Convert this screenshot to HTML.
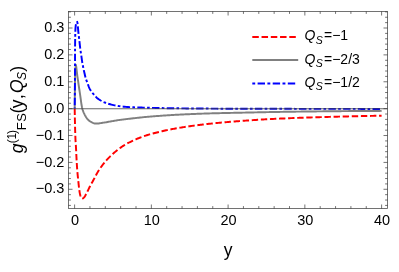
<!DOCTYPE html>
<html><head><meta charset="utf-8"><style>
html,body{margin:0;padding:0;background:#fff;}
body{width:399px;height:272px;position:relative;overflow:hidden;font-family:"Liberation Sans",sans-serif;}
svg text{font-family:"Liberation Sans",sans-serif;fill:#000;}
</style></head><body>
<svg width="399" height="272" viewBox="0 0 399 272" style="position:absolute;left:0;top:0;will-change:transform">
<rect width="399" height="272" fill="#fff"/>
<path d="M74.70,108.60 L74.71,109.65 L74.73,110.71 L74.75,111.76 L74.76,112.82 L74.78,113.87 L74.80,114.93 L74.82,115.98 L74.84,117.04 L74.86,118.09 L74.88,119.15 L74.90,120.20 L74.93,121.25 L74.95,122.31 L74.97,123.36 L75.00,124.42 L75.02,125.47 L75.05,126.53 L75.08,127.58 L75.11,128.64 L75.13,129.69 L75.16,130.75 L75.20,131.80 L75.23,132.85 L75.26,133.91 L75.30,134.96 L75.34,136.02 L75.38,137.07 L75.42,138.12 L75.46,139.18 L75.51,140.23 L75.57,141.28 L75.64,142.33 L75.72,143.39 L75.80,144.44 L75.87,145.49 L75.93,146.54 L75.99,147.60 L76.04,148.65 L76.10,149.70 L76.15,150.76 L76.20,151.81 L76.25,152.86 L76.29,153.92 L76.34,154.97 L76.39,156.03 L76.45,157.08 L76.50,158.13 L76.55,159.19 L76.61,160.24 L76.67,161.29 L76.74,162.34 L76.80,163.40 L76.86,164.45 L76.93,165.50 L76.99,166.56 L77.06,167.61 L77.14,168.66 L77.21,169.71 L77.29,170.76 L77.38,171.81 L77.47,172.87 L77.56,173.92 L77.66,174.96 L77.77,176.01 L77.88,177.06 L77.99,178.11 L78.10,179.16 L78.22,180.21 L78.33,181.26 L78.43,182.31 L78.54,183.36 L78.64,184.41 L78.75,185.46 L78.86,186.51 L78.98,187.56 L79.11,188.60 L79.25,189.65 L79.40,190.69 L79.56,191.76 L79.73,192.82 L79.93,193.87 L80.17,194.89 L80.46,195.87 L80.86,196.94 L81.46,198.04 L82.15,198.68 L82.96,198.42 L83.86,197.64 L84.52,196.87 L85.09,195.98 L85.60,195.02 L86.11,194.08 L86.62,193.16 L87.10,192.22 L87.57,191.28 L88.03,190.33 L88.49,189.38 L88.94,188.42 L89.40,187.47 L89.87,186.52 L90.35,185.58 L90.84,184.65 L91.35,183.73 L91.87,182.81 L92.40,181.90 L92.91,180.98 L93.42,180.05 L93.91,179.12 L94.41,178.18 L94.89,177.24 L95.38,176.31 L95.88,175.37 L96.38,174.44 L96.89,173.52 L97.41,172.61 L97.95,171.71 L98.50,170.82 L99.08,169.94 L99.66,169.06 L100.25,168.18 L100.86,167.31 L101.48,166.45 L102.10,165.60 L102.74,164.75 L103.39,163.91 L104.05,163.09 L104.71,162.27 L105.39,161.47 L106.07,160.67 L106.77,159.89 L107.49,159.12 L108.21,158.35 L108.96,157.60 L109.71,156.85 L110.47,156.12 L111.24,155.39 L112.02,154.67 L112.80,153.96 L113.58,153.26 L114.37,152.57 L115.17,151.88 L115.98,151.20 L116.80,150.53 L117.62,149.87 L118.46,149.22 L119.30,148.58 L120.15,147.96 L121.01,147.35 L121.88,146.76 L122.76,146.17 L123.65,145.60 L124.55,145.04 L125.45,144.49 L126.37,143.97 L127.29,143.46 L128.22,142.98 L129.15,142.50 L130.09,142.03 L131.04,141.56 L131.99,141.10 L132.95,140.65 L133.91,140.21 L134.88,139.78 L135.85,139.35 L136.82,138.93 L137.80,138.52 L138.78,138.12 L139.76,137.73 L140.75,137.35 L141.74,136.98 L142.73,136.62 L143.72,136.27 L144.71,135.93 L145.70,135.60 L146.70,135.28 L147.71,134.97 L148.72,134.66 L149.73,134.36 L150.75,134.07 L151.76,133.78 L152.78,133.51 L153.81,133.23 L154.83,132.97 L155.86,132.71 L156.88,132.45 L157.91,132.20 L158.93,131.95 L159.96,131.71 L160.98,131.47 L162.01,131.24 L163.04,131.00 L164.07,130.77 L165.10,130.55 L166.13,130.32 L167.16,130.10 L168.20,129.89 L169.23,129.68 L170.26,129.47 L171.30,129.26 L172.34,129.06 L173.37,128.86 L174.41,128.67 L175.45,128.48 L176.49,128.29 L177.53,128.11 L178.57,127.94 L179.61,127.76 L180.65,127.60 L181.69,127.43 L182.73,127.27 L183.77,127.10 L184.81,126.94 L185.85,126.79 L186.89,126.63 L187.94,126.48 L188.98,126.32 L190.03,126.17 L191.07,126.03 L192.12,125.88 L193.16,125.74 L194.21,125.60 L195.25,125.46 L196.30,125.32 L197.35,125.18 L198.39,125.05 L199.44,124.92 L200.49,124.79 L201.54,124.66 L202.58,124.54 L203.63,124.41 L204.68,124.29 L205.73,124.17 L206.78,124.05 L207.82,123.94 L208.87,123.82 L209.92,123.71 L210.97,123.60 L212.02,123.49 L213.07,123.38 L214.12,123.27 L215.16,123.17 L216.21,123.07 L217.26,122.97 L218.31,122.87 L219.36,122.77 L220.41,122.67 L221.46,122.57 L222.51,122.48 L223.57,122.38 L224.62,122.29 L225.67,122.20 L226.72,122.11 L227.77,122.02 L228.82,121.93 L229.87,121.84 L230.92,121.76 L231.98,121.67 L233.03,121.59 L234.08,121.50 L235.13,121.42 L236.18,121.34 L237.23,121.26 L238.29,121.18 L239.34,121.10 L240.39,121.02 L241.44,120.94 L242.49,120.86 L243.54,120.79 L244.60,120.71 L245.65,120.63 L246.70,120.56 L247.75,120.48 L248.80,120.41 L249.86,120.34 L250.91,120.26 L251.96,120.19 L253.01,120.12 L254.07,120.05 L255.12,119.98 L256.17,119.91 L257.22,119.84 L258.28,119.78 L259.33,119.71 L260.38,119.65 L261.43,119.58 L262.49,119.52 L263.54,119.46 L264.59,119.40 L265.65,119.34 L266.70,119.28 L267.75,119.22 L268.81,119.16 L269.86,119.11 L270.91,119.05 L271.96,119.00 L273.02,118.95 L274.07,118.89 L275.12,118.84 L276.18,118.79 L277.23,118.74 L278.28,118.69 L279.34,118.64 L280.39,118.59 L281.45,118.55 L282.50,118.50 L283.55,118.45 L284.61,118.41 L285.66,118.36 L286.71,118.32 L287.77,118.27 L288.82,118.23 L289.88,118.19 L290.93,118.14 L291.98,118.10 L293.04,118.06 L294.09,118.02 L295.15,117.98 L296.20,117.94 L297.25,117.90 L298.31,117.86 L299.36,117.82 L300.42,117.79 L301.47,117.75 L302.52,117.71 L303.58,117.67 L304.63,117.64 L305.69,117.60 L306.74,117.57 L307.79,117.53 L308.85,117.50 L309.90,117.46 L310.96,117.43 L312.01,117.39 L313.06,117.36 L314.12,117.33 L315.17,117.29 L316.23,117.26 L317.28,117.23 L318.34,117.20 L319.39,117.17 L320.44,117.13 L321.50,117.10 L322.55,117.07 L323.61,117.04 L324.66,117.01 L325.72,116.98 L326.77,116.95 L327.82,116.92 L328.88,116.89 L329.93,116.86 L330.99,116.84 L332.04,116.81 L333.10,116.78 L334.15,116.75 L335.20,116.72 L336.26,116.70 L337.31,116.67 L338.37,116.64 L339.42,116.61 L340.48,116.59 L341.53,116.56 L342.59,116.54 L343.64,116.51 L344.69,116.48 L345.75,116.46 L346.80,116.43 L347.86,116.41 L348.91,116.38 L349.97,116.36 L351.02,116.33 L352.07,116.31 L353.13,116.28 L354.18,116.26 L355.24,116.23 L356.29,116.21 L357.35,116.19 L358.40,116.16 L359.46,116.14 L360.51,116.12 L361.56,116.09 L362.62,116.07 L363.67,116.05 L364.73,116.03 L365.78,116.00 L366.84,115.98 L367.89,115.96 L368.95,115.94 L370.00,115.92 L371.05,115.90 L372.11,115.88 L373.16,115.85 L374.22,115.83 L375.27,115.81 L376.33,115.79 L377.38,115.78 L378.44,115.76 L379.49,115.74 L380.55,115.72 L381.60,115.70" fill="none" stroke="#ff0000" stroke-width="1.95" stroke-dasharray="6.4 2.7" stroke-dashoffset="0.1"/>
<path d="M74.70,108.60 L74.71,107.61 L74.72,106.62 L74.72,105.63 L74.73,104.64 L74.74,103.64 L74.75,102.65 L74.76,101.66 L74.77,100.67 L74.78,99.68 L74.79,98.69 L74.81,97.70 L74.82,96.71 L74.83,95.72 L74.84,94.73 L74.85,93.74 L74.86,92.74 L74.88,91.75 L74.89,90.76 L74.90,89.77 L74.92,88.78 L74.93,87.79 L74.94,86.80 L74.95,85.81 L74.96,84.81 L74.97,83.82 L74.98,82.83 L75.00,81.84 L75.01,80.85 L75.02,79.86 L75.04,78.86 L75.06,77.87 L75.08,76.88 L75.10,75.89 L75.12,74.90 L75.14,73.91 L75.17,72.92 L75.20,71.93 L75.25,70.81 L75.32,69.54 L75.42,68.23 L75.53,67.01 L75.65,65.98 L75.77,65.27 L75.90,65.00 L76.03,65.40 L76.18,66.41 L76.34,67.69 L76.48,68.88 L76.61,69.87 L76.74,70.85 L76.85,71.84 L76.96,72.82 L77.08,73.81 L77.20,74.79 L77.32,75.77 L77.45,76.76 L77.59,77.74 L77.73,78.72 L77.88,79.70 L78.03,80.68 L78.18,81.66 L78.32,82.64 L78.46,83.62 L78.61,84.60 L78.75,85.58 L78.90,86.56 L79.04,87.54 L79.18,88.52 L79.33,89.50 L79.47,90.48 L79.62,91.46 L79.76,92.44 L79.91,93.42 L80.06,94.40 L80.21,95.38 L80.36,96.36 L80.50,97.35 L80.63,98.33 L80.77,99.32 L80.90,100.31 L81.03,101.30 L81.17,102.29 L81.31,103.27 L81.46,104.25 L81.62,105.23 L81.79,106.20 L81.98,107.17 L82.19,108.12 L82.42,109.07 L82.70,110.02 L83.04,110.96 L83.41,111.89 L83.80,112.81 L84.22,113.71 L84.64,114.60 L85.10,115.48 L85.59,116.36 L86.11,117.22 L86.68,118.04 L87.28,118.79 L87.94,119.52 L88.66,120.24 L89.43,120.91 L90.24,121.50 L91.07,121.99 L91.94,122.41 L92.87,122.83 L93.83,123.20 L94.80,123.47 L95.78,123.59 L96.74,123.58 L97.72,123.52 L98.70,123.42 L99.68,123.29 L100.68,123.14 L101.67,122.97 L102.66,122.81 L103.64,122.65 L104.62,122.51 L105.60,122.35 L106.57,122.18 L107.55,122.01 L108.53,121.83 L109.50,121.65 L110.48,121.47 L111.45,121.29 L112.43,121.13 L113.41,120.96 L114.38,120.80 L115.36,120.63 L116.34,120.47 L117.32,120.31 L118.30,120.15 L119.27,120.00 L120.26,119.86 L121.24,119.73 L122.22,119.60 L123.20,119.47 L124.19,119.35 L125.17,119.23 L126.15,119.11 L127.14,119.00 L128.12,118.89 L129.11,118.77 L130.09,118.66 L131.08,118.55 L132.06,118.43 L133.05,118.32 L134.03,118.21 L135.02,118.10 L136.00,117.99 L136.99,117.88 L137.97,117.77 L138.96,117.66 L139.94,117.56 L140.93,117.45 L141.92,117.35 L142.90,117.25 L143.89,117.15 L144.87,117.06 L145.86,116.97 L146.85,116.87 L147.83,116.79 L148.82,116.70 L149.81,116.62 L150.80,116.53 L151.78,116.45 L152.77,116.38 L153.76,116.30 L154.75,116.22 L155.73,116.14 L156.72,116.07 L157.71,115.99 L158.70,115.92 L159.69,115.85 L160.68,115.78 L161.66,115.71 L162.65,115.64 L163.64,115.57 L164.63,115.50 L165.62,115.44 L166.61,115.37 L167.60,115.31 L168.59,115.25 L169.58,115.18 L170.57,115.12 L171.56,115.06 L172.55,115.00 L173.54,114.95 L174.52,114.89 L175.51,114.84 L176.50,114.78 L177.49,114.73 L178.48,114.68 L179.47,114.63 L180.46,114.58 L181.45,114.53 L182.44,114.48 L183.43,114.43 L184.42,114.39 L185.41,114.34 L186.40,114.29 L187.39,114.25 L188.38,114.20 L189.37,114.16 L190.36,114.12 L191.35,114.07 L192.34,114.03 L193.33,113.99 L194.32,113.95 L195.31,113.91 L196.30,113.87 L197.29,113.83 L198.28,113.79 L199.27,113.76 L200.27,113.72 L201.26,113.69 L202.25,113.65 L203.24,113.62 L204.23,113.58 L205.22,113.55 L206.21,113.52 L207.20,113.49 L208.19,113.45 L209.18,113.42 L210.17,113.39 L211.16,113.37 L212.15,113.34 L213.14,113.31 L214.13,113.28 L215.12,113.26 L216.11,113.23 L217.10,113.21 L218.10,113.18 L219.09,113.16 L220.08,113.13 L221.07,113.11 L222.06,113.08 L223.05,113.06 L224.04,113.04 L225.03,113.02 L226.02,112.99 L227.01,112.97 L228.00,112.95 L228.99,112.93 L229.99,112.91 L230.98,112.89 L231.97,112.87 L232.96,112.85 L233.95,112.83 L234.94,112.80 L235.93,112.78 L236.92,112.76 L237.91,112.74 L238.90,112.72 L239.89,112.70 L240.88,112.68 L241.88,112.66 L242.87,112.64 L243.86,112.62 L244.85,112.60 L245.84,112.58 L246.83,112.56 L247.82,112.54 L248.81,112.52 L249.80,112.49 L250.79,112.47 L251.78,112.45 L252.77,112.43 L253.77,112.41 L254.76,112.39 L255.75,112.37 L256.74,112.35 L257.73,112.33 L258.72,112.31 L259.71,112.29 L260.70,112.27 L261.69,112.25 L262.68,112.23 L263.67,112.21 L264.66,112.19 L265.66,112.17 L266.65,112.15 L267.64,112.13 L268.63,112.11 L269.62,112.09 L270.61,112.07 L271.60,112.05 L272.59,112.03 L273.58,112.02 L274.57,112.00 L275.56,111.98 L276.56,111.96 L277.55,111.94 L278.54,111.92 L279.53,111.91 L280.52,111.89 L281.51,111.87 L282.50,111.86 L283.49,111.84 L284.48,111.82 L285.47,111.81 L286.46,111.79 L287.46,111.77 L288.45,111.76 L289.44,111.74 L290.43,111.73 L291.42,111.71 L292.41,111.70 L293.40,111.69 L294.39,111.67 L295.38,111.66 L296.37,111.65 L297.36,111.63 L298.36,111.62 L299.35,111.61 L300.34,111.60 L301.33,111.58 L302.32,111.57 L303.31,111.56 L304.30,111.55 L305.29,111.54 L306.28,111.53 L307.27,111.51 L308.26,111.50 L309.26,111.49 L310.25,111.48 L311.24,111.47 L312.23,111.46 L313.22,111.45 L314.21,111.43 L315.20,111.42 L316.19,111.41 L317.18,111.40 L318.17,111.39 L319.17,111.38 L320.16,111.37 L321.15,111.36 L322.14,111.35 L323.13,111.34 L324.12,111.33 L325.11,111.31 L326.10,111.30 L327.09,111.29 L328.08,111.28 L329.08,111.27 L330.07,111.26 L331.06,111.25 L332.05,111.24 L333.04,111.23 L334.03,111.22 L335.02,111.21 L336.01,111.20 L337.00,111.19 L337.99,111.18 L338.99,111.18 L339.98,111.17 L340.97,111.16 L341.96,111.15 L342.95,111.14 L343.94,111.13 L344.93,111.12 L345.92,111.11 L346.91,111.10 L347.90,111.10 L348.90,111.09 L349.89,111.08 L350.88,111.07 L351.87,111.06 L352.86,111.06 L353.85,111.05 L354.84,111.04 L355.83,111.03 L356.82,111.03 L357.81,111.02 L358.81,111.01 L359.80,111.01 L360.79,111.00 L361.78,110.99 L362.77,110.99 L363.76,110.98 L364.75,110.98 L365.74,110.97 L366.73,110.96 L367.73,110.96 L368.72,110.95 L369.71,110.95 L370.70,110.94 L371.69,110.94 L372.68,110.93 L373.67,110.93 L374.66,110.93 L375.65,110.92 L376.64,110.92 L377.64,110.91 L378.63,110.91 L379.62,110.91 L380.61,110.90 L381.60,110.90" fill="none" stroke="#808080" stroke-width="1.95" stroke-linejoin="round"/>
<path d="M74.70,108.60 L74.71,107.46 L74.73,106.33 L74.74,105.19 L74.76,104.05 L74.77,102.92 L74.78,101.78 L74.80,100.65 L74.81,99.51 L74.82,98.37 L74.83,97.24 L74.84,96.10 L74.85,94.96 L74.86,93.83 L74.87,92.69 L74.88,91.55 L74.89,90.42 L74.90,89.28 L74.91,88.15 L74.91,87.01 L74.92,85.87 L74.93,84.74 L74.93,83.60 L74.94,82.46 L74.94,81.33 L74.95,80.19 L74.95,79.05 L74.96,77.92 L74.96,76.78 L74.97,75.64 L74.97,74.51 L74.98,73.37 L74.98,72.23 L74.99,71.10 L74.99,69.96 L74.99,68.83 L75.00,67.69 L75.00,66.55 L75.01,65.42 L75.01,64.28 L75.01,63.14 L75.01,62.01 L75.02,60.87 L75.02,59.73 L75.02,58.60 L75.02,57.46 L75.03,56.32 L75.03,55.19 L75.03,54.05 L75.04,52.92 L75.04,51.78 L75.05,50.64 L75.05,49.51 L75.06,48.37 L75.07,47.23 L75.08,46.10 L75.09,44.96 L75.10,43.82 L75.11,42.69 L75.13,41.55 L75.14,40.42 L75.16,39.28 L75.18,38.14 L75.20,37.00 L75.22,35.87 L75.25,34.73 L75.28,33.59 L75.31,32.46 L75.35,31.32 L75.39,30.19 L75.45,29.05 L75.52,27.89 L75.61,26.74 L75.74,25.61 L75.91,24.51 L76.21,23.36 L76.84,22.16 L77.22,22.01 L77.45,22.92 L77.62,24.33 L77.77,25.74 L77.90,26.88 L78.00,28.01 L78.09,29.14 L78.19,30.28 L78.29,31.41 L78.41,32.54 L78.54,33.67 L78.67,34.80 L78.80,35.93 L78.94,37.06 L79.07,38.19 L79.20,39.31 L79.33,40.44 L79.46,41.57 L79.59,42.70 L79.71,43.83 L79.83,44.96 L79.95,46.09 L80.07,47.22 L80.21,48.35 L80.36,49.48 L80.52,50.60 L80.70,51.72 L80.87,52.85 L81.04,53.97 L81.22,55.09 L81.39,56.22 L81.55,57.34 L81.70,58.47 L81.85,59.59 L82.01,60.72 L82.18,61.84 L82.36,62.96 L82.57,64.08 L82.78,65.20 L83.00,66.31 L83.23,67.43 L83.46,68.54 L83.70,69.65 L83.94,70.76 L84.19,71.87 L84.44,72.98 L84.70,74.09 L84.95,75.20 L85.21,76.30 L85.48,77.41 L85.79,78.50 L86.14,79.58 L86.53,80.65 L86.94,81.71 L87.34,82.77 L87.73,83.85 L88.12,84.93 L88.52,86.01 L88.93,87.08 L89.37,88.13 L89.85,89.14 L90.37,90.12 L90.97,91.06 L91.65,91.98 L92.38,92.86 L93.14,93.73 L93.90,94.58 L94.65,95.44 L95.42,96.30 L96.21,97.15 L97.03,97.94 L97.88,98.66 L98.78,99.30 L99.71,99.91 L100.69,100.49 L101.70,101.05 L102.73,101.58 L103.78,102.07 L104.84,102.53 L105.91,102.95 L106.97,103.32 L108.03,103.67 L109.11,103.99 L110.21,104.30 L111.31,104.59 L112.42,104.86 L113.54,105.11 L114.66,105.35 L115.78,105.56 L116.90,105.76 L118.02,105.93 L119.14,106.10 L120.27,106.26 L121.40,106.41 L122.53,106.54 L123.66,106.67 L124.79,106.78 L125.93,106.88 L127.06,106.97 L128.19,107.03 L129.32,107.10 L130.46,107.15 L131.59,107.21 L132.73,107.26 L133.86,107.31 L135.00,107.36 L136.13,107.40 L137.27,107.44 L138.40,107.48 L139.54,107.52 L140.68,107.55 L141.81,107.59 L142.95,107.62 L144.09,107.65 L145.23,107.68 L146.36,107.71 L147.50,107.74 L148.64,107.77 L149.77,107.79 L150.91,107.82 L152.04,107.85 L153.18,107.88 L154.32,107.90 L155.45,107.93 L156.59,107.96 L157.72,107.98 L158.86,108.00 L160.00,108.03 L161.13,108.05 L162.27,108.08 L163.41,108.10 L164.54,108.12 L165.68,108.14 L166.81,108.16 L167.95,108.18 L169.09,108.20 L170.22,108.22 L171.36,108.24 L172.50,108.26 L173.63,108.27 L174.77,108.29 L175.91,108.30 L177.04,108.32 L178.18,108.33 L179.31,108.34 L180.45,108.35 L181.59,108.37 L182.72,108.38 L183.86,108.39 L185.00,108.40 L186.13,108.41 L187.27,108.42 L188.41,108.43 L189.54,108.44 L190.68,108.45 L191.81,108.46 L192.95,108.47 L194.09,108.48 L195.22,108.49 L196.36,108.50 L197.50,108.51 L198.63,108.52 L199.77,108.53 L200.91,108.54 L202.04,108.55 L203.18,108.56 L204.31,108.57 L205.45,108.58 L206.59,108.58 L207.72,108.59 L208.86,108.60 L210.00,108.61 L211.13,108.61 L212.27,108.62 L213.41,108.63 L214.54,108.64 L215.68,108.64 L216.82,108.65 L217.95,108.66 L219.09,108.66 L220.22,108.67 L221.36,108.68 L222.50,108.68 L223.63,108.69 L224.77,108.69 L225.91,108.70 L227.04,108.70 L228.18,108.71 L229.32,108.71 L230.45,108.72 L231.59,108.72 L232.73,108.73 L233.86,108.73 L235.00,108.73 L236.14,108.74 L237.27,108.74 L238.41,108.75 L239.54,108.75 L240.68,108.75 L241.82,108.75 L242.95,108.76 L244.09,108.76 L245.23,108.76 L246.36,108.77 L247.50,108.77 L248.64,108.77 L249.77,108.77 L250.91,108.78 L252.05,108.78 L253.18,108.78 L254.32,108.78 L255.45,108.79 L256.59,108.79 L257.73,108.79 L258.86,108.79 L260.00,108.80 L261.14,108.80 L262.27,108.80 L263.41,108.80 L264.55,108.80 L265.68,108.81 L266.82,108.81 L267.96,108.81 L269.09,108.81 L270.23,108.81 L271.36,108.82 L272.50,108.82 L273.64,108.82 L274.77,108.82 L275.91,108.82 L277.05,108.82 L278.18,108.83 L279.32,108.83 L280.46,108.83 L281.59,108.83 L282.73,108.83 L283.87,108.83 L285.00,108.83 L286.14,108.84 L287.28,108.84 L288.41,108.84 L289.55,108.84 L290.68,108.84 L291.82,108.84 L292.96,108.84 L294.09,108.84 L295.23,108.85 L296.37,108.85 L297.50,108.85 L298.64,108.85 L299.78,108.85 L300.91,108.85 L302.05,108.85 L303.19,108.85 L304.32,108.85 L305.46,108.86 L306.59,108.86 L307.73,108.86 L308.87,108.86 L310.00,108.86 L311.14,108.86 L312.28,108.86 L313.41,108.86 L314.55,108.86 L315.69,108.86 L316.82,108.87 L317.96,108.87 L319.10,108.87 L320.23,108.87 L321.37,108.87 L322.50,108.87 L323.64,108.87 L324.78,108.87 L325.91,108.87 L327.05,108.87 L328.19,108.87 L329.32,108.88 L330.46,108.88 L331.60,108.88 L332.73,108.88 L333.87,108.88 L335.01,108.88 L336.14,108.88 L337.28,108.88 L338.42,108.88 L339.55,108.88 L340.69,108.88 L341.82,108.89 L342.96,108.89 L344.10,108.89 L345.23,108.89 L346.37,108.89 L347.51,108.89 L348.64,108.89 L349.78,108.89 L350.92,108.89 L352.05,108.89 L353.19,108.89 L354.33,108.89 L355.46,108.89 L356.60,108.89 L357.73,108.89 L358.87,108.89 L360.01,108.90 L361.14,108.90 L362.28,108.90 L363.42,108.90 L364.55,108.90 L365.69,108.90 L366.83,108.90 L367.96,108.90 L369.10,108.90 L370.24,108.90 L371.37,108.90 L372.51,108.90 L373.64,108.90 L374.78,108.90 L375.92,108.90 L377.05,108.90 L378.19,108.90 L379.33,108.90 L380.46,108.90 L381.60,108.90" fill="none" stroke="#0000ff" stroke-width="1.95" stroke-dasharray="2.65 2.3 7.45 2.3" stroke-dashoffset="1.55"/>
<line x1="68.5" y1="108.75" x2="387.5" y2="108.75" stroke="#404040" stroke-width="0.8"/>
<rect x="68.5" y="11.5" width="319.0" height="197.0" fill="none" stroke="#505050" stroke-width="0.8"/>
<path d="M74.60,208.5v-4.0M74.60,11.5v4.0M89.95,208.5v-2.4M89.95,11.5v2.4M105.30,208.5v-2.4M105.30,11.5v2.4M120.65,208.5v-2.4M120.65,11.5v2.4M136.00,208.5v-2.4M136.00,11.5v2.4M151.35,208.5v-4.0M151.35,11.5v4.0M166.70,208.5v-2.4M166.70,11.5v2.4M182.05,208.5v-2.4M182.05,11.5v2.4M197.40,208.5v-2.4M197.40,11.5v2.4M212.75,208.5v-2.4M212.75,11.5v2.4M228.10,208.5v-4.0M228.10,11.5v4.0M243.45,208.5v-2.4M243.45,11.5v2.4M258.80,208.5v-2.4M258.80,11.5v2.4M274.15,208.5v-2.4M274.15,11.5v2.4M289.50,208.5v-2.4M289.50,11.5v2.4M304.85,208.5v-4.0M304.85,11.5v4.0M320.20,208.5v-2.4M320.20,11.5v2.4M335.55,208.5v-2.4M335.55,11.5v2.4M350.90,208.5v-2.4M350.90,11.5v2.4M366.25,208.5v-2.4M366.25,11.5v2.4M381.60,208.5v-4.0M381.60,11.5v4.0M68.5,205.42h2.4M387.5,205.42h-2.4M68.5,200.04h2.4M387.5,200.04h-2.4M68.5,194.67h2.4M387.5,194.67h-2.4M68.5,189.29h4.0M387.5,189.29h-4.0M68.5,183.91h2.4M387.5,183.91h-2.4M68.5,178.54h2.4M387.5,178.54h-2.4M68.5,173.16h2.4M387.5,173.16h-2.4M68.5,167.79h2.4M387.5,167.79h-2.4M68.5,162.41h4.0M387.5,162.41h-4.0M68.5,157.03h2.4M387.5,157.03h-2.4M68.5,151.66h2.4M387.5,151.66h-2.4M68.5,146.28h2.4M387.5,146.28h-2.4M68.5,140.91h2.4M387.5,140.91h-2.4M68.5,135.53h4.0M387.5,135.53h-4.0M68.5,130.15h2.4M387.5,130.15h-2.4M68.5,124.78h2.4M387.5,124.78h-2.4M68.5,119.40h2.4M387.5,119.40h-2.4M68.5,114.03h2.4M387.5,114.03h-2.4M68.5,108.65h4.0M387.5,108.65h-4.0M68.5,103.27h2.4M387.5,103.27h-2.4M68.5,97.90h2.4M387.5,97.90h-2.4M68.5,92.52h2.4M387.5,92.52h-2.4M68.5,87.15h2.4M387.5,87.15h-2.4M68.5,81.77h4.0M387.5,81.77h-4.0M68.5,76.39h2.4M387.5,76.39h-2.4M68.5,71.02h2.4M387.5,71.02h-2.4M68.5,65.64h2.4M387.5,65.64h-2.4M68.5,60.27h2.4M387.5,60.27h-2.4M68.5,54.89h4.0M387.5,54.89h-4.0M68.5,49.51h2.4M387.5,49.51h-2.4M68.5,44.14h2.4M387.5,44.14h-2.4M68.5,38.76h2.4M387.5,38.76h-2.4M68.5,33.39h2.4M387.5,33.39h-2.4M68.5,28.01h4.0M387.5,28.01h-4.0M68.5,22.63h2.4M387.5,22.63h-2.4M68.5,17.26h2.4M387.5,17.26h-2.4M68.5,11.88h2.4M387.5,11.88h-2.4" fill="none" stroke="#2a2a2a" stroke-width="0.65"/>
<line x1="252.3" y1="37" x2="298" y2="37" stroke="#ff0000" stroke-width="2.1" stroke-dasharray="6.5 2.75"/>
<line x1="252.3" y1="60" x2="298.2" y2="60" stroke="#808080" stroke-width="2.1"/>
<line x1="252.3" y1="83.45" x2="295.3" y2="83.45" stroke="#0000ff" stroke-width="2.1" stroke-dasharray="2.9 2.4 7.4 2.4"/>
<text x="64.4" y="32.16" font-size="14.5" text-anchor="end">0.3</text>
<text x="64.4" y="59.04" font-size="14.5" text-anchor="end">0.2</text>
<text x="64.4" y="85.92" font-size="14.5" text-anchor="end">0.1</text>
<text x="64.4" y="112.80" font-size="14.5" text-anchor="end">0.0</text>
<text x="64.4" y="139.68" font-size="14.5" text-anchor="end">−0.1</text>
<text x="64.4" y="166.56" font-size="14.5" text-anchor="end">−0.2</text>
<text x="64.4" y="193.44" font-size="14.5" text-anchor="end">−0.3</text>
<text x="75.00" y="225.2" font-size="14.5" text-anchor="middle">0</text>
<text x="151.75" y="225.2" font-size="14.5" text-anchor="middle">10</text>
<text x="228.50" y="225.2" font-size="14.5" text-anchor="middle">20</text>
<text x="305.25" y="225.2" font-size="14.5" text-anchor="middle">30</text>
<text x="382.00" y="225.2" font-size="14.5" text-anchor="middle">40</text>
<text x="228.2" y="256.3" font-size="17.5" text-anchor="middle">y</text>
<text x="304.6" y="40.4" font-size="14"><tspan font-style="italic">Q</tspan><tspan font-style="italic" font-size="10.5" dy="3.2" dx="0.3">S</tspan><tspan dy="-3.2" dx="1.2">=−1</tspan></text>
<text x="304.6" y="63.7" font-size="14"><tspan font-style="italic">Q</tspan><tspan font-style="italic" font-size="10.5" dy="3.2" dx="0.3">S</tspan><tspan dy="-3.2" dx="1.2">=−2/3</tspan></text>
<text x="304.6" y="87.0" font-size="14"><tspan font-style="italic">Q</tspan><tspan font-style="italic" font-size="10.5" dy="3.2" dx="0.3">S</tspan><tspan dy="-3.2" dx="1.2">=−1/2</tspan></text>
<g transform="translate(23,153.6) rotate(-90)"><text x="0" y="0" font-size="17.5"><tspan font-style="italic" font-size="17.5" dy="0" dx="0.40">g</tspan><tspan font-size="12" dy="-7" dx="0.10">(</tspan><tspan font-size="12" dy="0" dx="-0.20">1</tspan><tspan font-size="12" dy="0" dx="-1.00">)</tspan><tspan font-size="13" dy="9.7" dx="-0.30">F</tspan><tspan font-size="13" dy="0" dx="0.40">S</tspan><tspan font-size="17.5" dy="-2.7" dx="-0.10">(</tspan><tspan font-size="17.5" dy="0" dx="-0.70">y</tspan><tspan font-size="17.5" dy="0" dx="1.80">,</tspan><tspan font-style="italic" font-size="17.5" dy="0" dx="1.10">Q</tspan><tspan font-style="italic" font-size="12" dy="2.7" dx="-0.60">S</tspan><tspan font-size="17.5" dy="-2.7" dx="0.10">)</tspan></text></g>
</svg>
</body></html>
